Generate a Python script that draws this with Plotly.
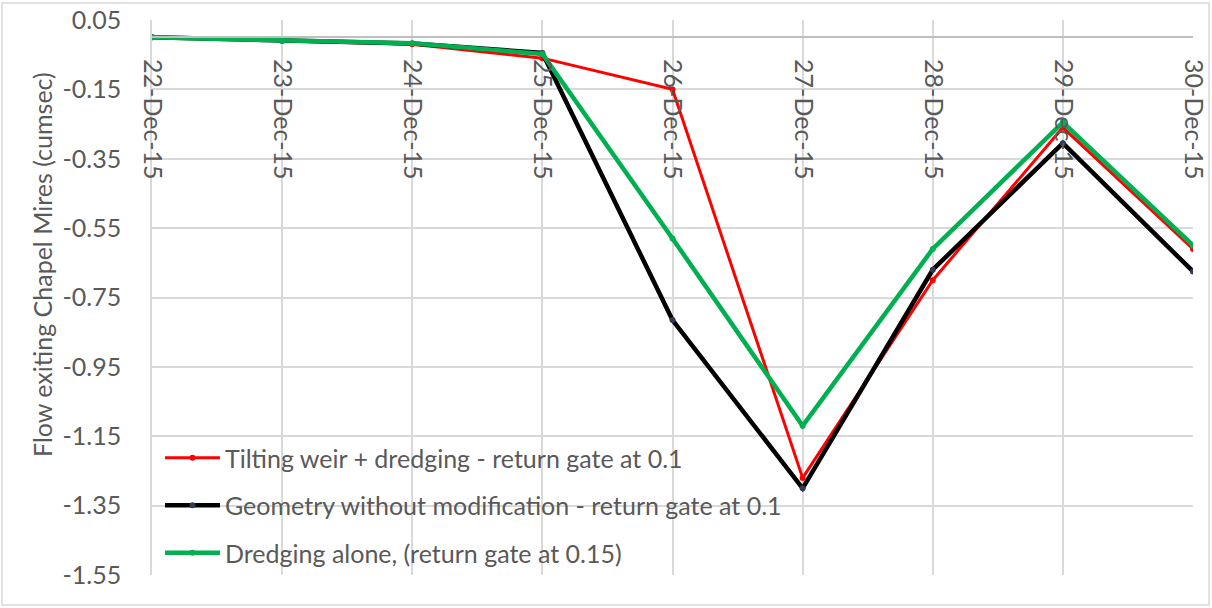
import plotly.graph_objects as go

# Dates along the category axis
dates = ["22-Dec-15", "23-Dec-15", "24-Dec-15", "25-Dec-15", "26-Dec-15",
         "27-Dec-15", "28-Dec-15", "29-Dec-15", "30-Dec-15"]

# Flow exiting Chapel Mires (cumsec) for each scenario
tilting_weir = [0.00, -0.01, -0.02, -0.06, -0.15, -1.27, -0.70, -0.26, -0.61]
geometry_unmodified = [0.00, -0.01, -0.018, -0.045, -0.815, -1.30, -0.67, -0.305, -0.675]
dredging_alone = [0.00, -0.01, -0.017, -0.048, -0.58, -1.12, -0.61, -0.245, -0.60]

y_ticks = [0.05, -0.15, -0.35, -0.55, -0.75, -0.95, -1.15, -1.35, -1.55]

FONT = "Lato"
TEXT = "#595959"
GRID = "#d9d9d9"
FS = 25

x_idx = list(range(len(dates)))

fig = go.Figure()

series = [
    ("Tilting weir + dredging - return gate at 0.1", tilting_weir, "#ff0000", "#ff0000", 3),
    ("Geometry without modification - return gate at 0.1", geometry_unmodified, "#000000", "#2f3a4f", 4.5),
    ("Dredging alone, (return gate at 0.15)", dredging_alone, "#00b050", "#00b050", 4.5),
]

for i, (name, vals, lc, mc, w) in enumerate(series):
    fig.add_trace(go.Scatter(
        x=x_idx, y=vals, name=name, mode="lines+markers",
        line=dict(color=lc, width=w),
        marker=dict(color=mc, size=6),
        legendgroup=f"g{i}",
    ))

W, H = 1212, 608
ml, mr, mt, mb = 152, 19, 20, 33
pw, ph = W - ml - mr, H - mt - mb
ymin, ymax = -1.55, 0.05

def px_x(p):
    return (p - ml) / pw

def px_y(p):
    return (H - mb - p) / ph

fig.update_layout(
    width=W, height=H,
    margin=dict(l=ml, r=mr, t=mt, b=mb, autoexpand=False),
    paper_bgcolor="white", plot_bgcolor="white",
    font=dict(family=FONT, color=TEXT, size=FS),
    showlegend=True,
    legend=dict(
        x=px_x(160), y=px_y(435), xanchor="left", yanchor="top",
        bgcolor="rgba(0,0,0,0)", font=dict(size=FS, color=TEXT, family=FONT),
        traceorder="grouped", tracegroupgap=12, itemwidth=55,
    ),
    xaxis=dict(
        range=[0, len(dates) - 1], automargin=False,
        tickmode="array", tickvals=x_idx, ticktext=dates,
        tickangle=90, showgrid=True, gridcolor=GRID, gridwidth=1.5,
        zeroline=False, showline=True, linecolor="#bfbfbf", linewidth=1.5,
        anchor="free", position=(0 - ymin) / (ymax - ymin), side="bottom",
        ticks="", ticklabelstandoff=16,
        tickfont=dict(size=FS, color=TEXT, family=FONT),
    ),
    yaxis=dict(
        range=[ymin, ymax], automargin=False,
        tickmode="array", tickvals=y_ticks,
        ticktext=[f"{v:.2f}" for v in y_ticks],
        showgrid=True, gridcolor=GRID, gridwidth=1.5, zeroline=False,
        showline=True, linecolor=GRID, linewidth=1.5, ticks="",
        ticklabelstandoff=24,
        tickfont=dict(size=FS, color=TEXT, family=FONT),
    ),
    annotations=[dict(
        text="Flow exiting Chapel Mires (cumsec)", textangle=-90,
        xref="paper", yref="paper", x=px_x(42), y=px_y(265),
        xanchor="center", yanchor="middle", showarrow=False,
        font=dict(size=FS, color=TEXT, family=FONT),
    )],
    shapes=[dict(
        type="rect", xref="paper", yref="paper", layer="below",
        x0=px_x(2), x1=px_x(1209), y0=px_y(605), y1=px_y(3),
        line=dict(color=GRID, width=1.5), fillcolor="rgba(0,0,0,0)",
    )],
)

fig.write_html("out.html")
